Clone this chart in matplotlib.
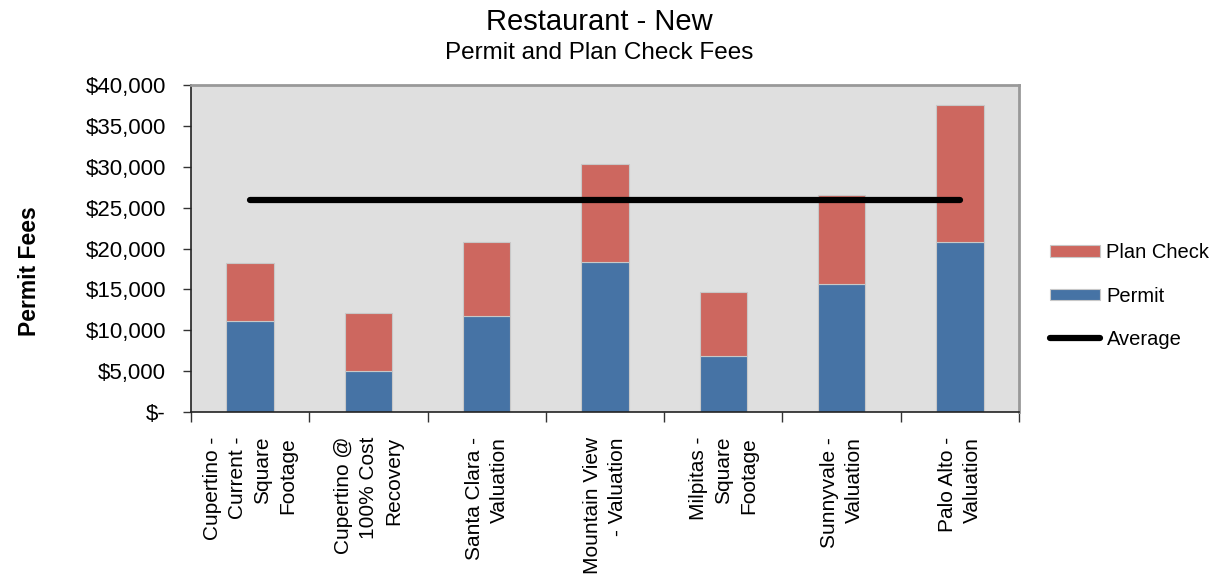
import numpy as np
import matplotlib
matplotlib.use("Agg")
import matplotlib.pyplot as plt
from matplotlib.ticker import FuncFormatter, FixedLocator

plt.rcParams['font.family'] = ['Liberation Sans', 'DejaVu Sans']

# 数据
categories = ["Cupertino -\nCurrent -\nSquare\nFootage",
              "Cupertino @\n100% Cost\nRecovery",
              "Santa Clara -\nValuation",
              "Mountain View\n- Valuation",
              "Milpitas -\nSquare\nFootage",
              "Sunnyvale -\nValuation",
              "Palo Alto -\nValuation"]
permit_fees = [11100, 5000, 11800, 18300, 6800, 15600, 20800]
plan_check_fees = [7100, 7100, 9000, 12000, 7900, 11000, 16700]
y_ticks = [0, 5000, 10000, 15000, 20000, 25000, 30000, 35000, 40000]

BLUE = "#4673A5"
RED = "#CD675F"

permit = np.array(permit_fees)
plan = np.array(plan_check_fees)
totals = permit + plan
# 平均值：其它城市（不含 Cupertino）的总费用
average = np.full(len(categories), totals[2:].mean())

fig = plt.figure(figsize=(12.11, 5.77), dpi=100)
ax = fig.add_axes([191 / 1211, 1 - 412 / 577, 828 / 1211, 327 / 577])
ax.set_facecolor("#DFDFDF")

x = np.arange(len(categories))
b_permit = ax.bar(x, permit, width=0.4, color=BLUE, edgecolor="#C8C8C8",
                  linewidth=0.8, label="Permit", zorder=2)
b_plan = ax.bar(x, plan, bottom=permit, width=0.4, color=RED,
                edgecolor="#C8C8C8", linewidth=0.8, label="Plan Check", zorder=2)
l_avg, = ax.plot(x, average, color="black", lw=4.5, solid_capstyle="round",
                 label="Average", zorder=3)

ax.set_xlim(-0.5, len(categories) - 0.5)
ax.set_ylim(0, 40000)
ax.yaxis.set_major_locator(FixedLocator(y_ticks))
ax.yaxis.set_major_formatter(FuncFormatter(
    lambda v, p: "$-" if v == 0 else f"${v:,.0f}"))
ax.tick_params(axis="y", labelsize=16, length=6, width=1, direction="out",
               pad=12, color="#333333")

ax.set_xticks(x)
ax.set_xticklabels(categories, rotation=90, fontsize=15, ha="center",
                   va="top", multialignment="right", linespacing=1.4)
ax.set_xticks(np.arange(-0.5, len(categories)), minor=True)
ax.tick_params(axis="x", which="major", length=0, pad=18)
ax.tick_params(axis="x", which="minor", length=7, width=1, color="#333333")

for s in ("left", "bottom"):
    ax.spines[s].set_color("#222222")
    ax.spines[s].set_linewidth(1.2)
for s in ("top", "right"):
    ax.spines[s].set_color("#999999")
    ax.spines[s].set_linewidth(2)

fig.text(0.495, 0.962, "Restaurant - New", ha="center", va="center", fontsize=21)
fig.text(0.495, 0.908, "Permit and Plan Check Fees", ha="center", va="center",
         fontsize=17.5)
fig.text(30 / 1211, 1 - 271 / 577, "Permit Fees", rotation=90, ha="center",
         va="center", fontsize=16.5, fontweight="bold")

fig.legend([b_plan, b_permit, l_avg], ["Plan Check", "Permit", "Average"],
           loc="center left", bbox_to_anchor=(1040 / 1211, 1 - 296 / 577),
           frameon=False, fontsize=14.5, handlelength=2.5, handleheight=0.5,
           handletextpad=0.3, labelspacing=1.2, borderpad=0)

fig.savefig("out.png", dpi=100)
